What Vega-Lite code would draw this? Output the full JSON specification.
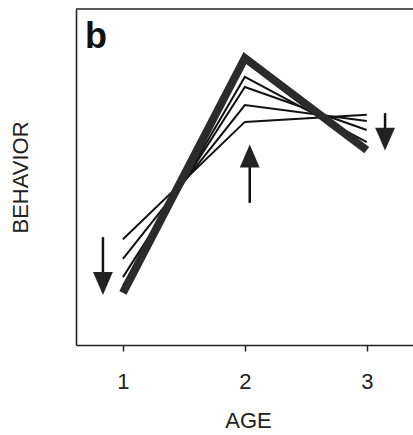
{
  "$schema": "https://vega.github.io/schema/vega-lite/v6.json",
  "autosize": "none",
  "padding": {"left": 76, "top": 9, "right": 0, "bottom": 90},
  "width": 341,
  "height": 336,
  "config": {
    "view": {"stroke": "transparent", "strokeWidth": 0},
    "font": "Liberation Sans",
    "axis": {"domainColor": "#222", "domainWidth": 1.6, "grid": false}
  },
  "datasets": {
    "lines": [
      {"series": "L1", "age": 1, "behavior": 31.5},
      {"series": "L1", "age": 2, "behavior": 66.4},
      {"series": "L1", "age": 3, "behavior": 68.5},
      {"series": "L2", "age": 1, "behavior": 25.6},
      {"series": "L2", "age": 2, "behavior": 71.4},
      {"series": "L2", "age": 3, "behavior": 66.7},
      {"series": "L3", "age": 1, "behavior": 20.2},
      {"series": "L3", "age": 2, "behavior": 76.8},
      {"series": "L3", "age": 3, "behavior": 64.0},
      {"series": "L4", "age": 1, "behavior": 17.6},
      {"series": "L4", "age": 2, "behavior": 79.8},
      {"series": "L4", "age": 3, "behavior": 60.4},
      {"series": "M", "age": 1, "behavior": 15.5},
      {"series": "M", "age": 2, "behavior": 85.4},
      {"series": "M", "age": 3, "behavior": 58.0}
    ],
    "arrows": [
      {"arrow": "A1", "age": 0.836, "start": 32.1, "head": 18.3, "dir": "down"},
      {"arrow": "A2", "age": 2.04, "start": 42.3, "head": 56.25, "dir": "up"},
      {"arrow": "A3", "age": 3.15, "start": 69.0, "head": 61.3, "dir": "down"}
    ]
  },
  "layer": [
    {
      "data": {"values": [{"edge": "top"}]},
      "mark": {"type": "rule", "color": "#222", "strokeWidth": 1.6},
      "encoding": {
        "x": {"datum": 0.615, "type": "quantitative"},
        "x2": {"datum": 3.412},
        "y": {"datum": 100, "type": "quantitative"}
      }
    },
    {
      "data": {"name": "lines"},
      "transform": [{"filter": "datum.series !== 'M'"}],
      "mark": {"type": "line", "color": "#111", "strokeWidth": 2, "strokeJoin": "miter"},
      "encoding": {
        "x": {"field": "age", "type": "quantitative",
              "scale": {"domain": [0.615, 3.412], "nice": false, "zero": false},
              "axis": {"orient": "bottom", "values": [1, 2, 3], "title": "AGE", "format": "d",
                       "tickSize": 6, "tickColor": "#222", "tickWidth": 1.5,
                       "labelFontSize": 22, "labelColor": "#222", "labelPadding": 20,
                       "titleFontSize": 22, "titleFontWeight": "normal", "titleColor": "#222", "titlePadding": 18, "titleX": 172}},
        "y": {"field": "behavior", "type": "quantitative",
              "scale": {"domain": [0, 100], "nice": false},
              "axis": {"orient": "left", "ticks": false, "labels": false, "title": "BEHAVIOR",
                       "titleFontSize": 22, "titleFontWeight": "normal", "titleColor": "#222", "titlePadding": 44}},
        "detail": {"field": "series"}
      }
    },
    {
      "data": {"name": "lines"},
      "transform": [{"filter": "datum.series === 'M'"}],
      "mark": {"type": "line", "color": "#2b2b2b", "strokeWidth": 8, "strokeJoin": "miter", "strokeCap": "butt"},
      "encoding": {
        "x": {"field": "age", "type": "quantitative"},
        "y": {"field": "behavior", "type": "quantitative"}
      }
    },
    {
      "data": {"name": "arrows"},
      "mark": {"type": "rule", "color": "#111", "strokeWidth": 2.5},
      "encoding": {
        "x": {"field": "age", "type": "quantitative"},
        "y": {"field": "start", "type": "quantitative"},
        "y2": {"field": "head"}
      }
    },
    {
      "data": {"name": "arrows"},
      "mark": {"type": "point", "filled": true, "color": "#222", "opacity": 1, "size": 520},
      "encoding": {
        "x": {"field": "age", "type": "quantitative"},
        "y": {"field": "head", "type": "quantitative"},
        "shape": {"field": "dir", "type": "nominal", "legend": null,
                  "scale": {"domain": ["down", "up"], "range": ["M-0.87,-1L0.87,-1L0,1Z", "M0,-1L0.87,1L-0.87,1Z"]}}
      }
    },
    {
      "data": {"values": [{"panel": "b"}]},
      "mark": {"type": "text", "fontSize": 36, "fontWeight": "bold", "color": "#111", "align": "center", "baseline": "alphabetic"},
      "encoding": {
        "x": {"datum": 0.779, "type": "quantitative"},
        "y": {"datum": 88.4, "type": "quantitative"},
        "text": {"field": "panel"}
      }
    }
  ]
}
